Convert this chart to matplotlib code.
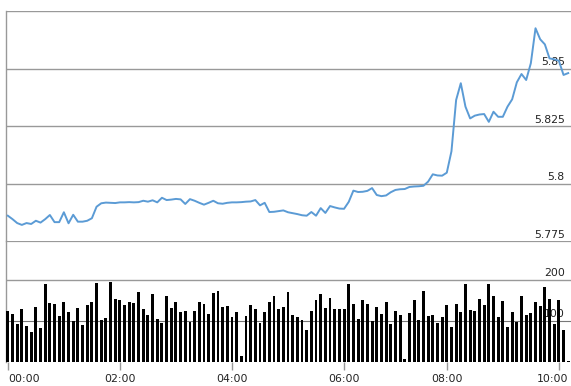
import matplotlib.pyplot as plt
import matplotlib.transforms as mtransforms

# price per 5-minute slot (index based x axis)
price = [
    5.7860, 5.7845, 5.7828, 5.7820, 5.7828, 5.7824, 5.7838, 5.7830, 5.7845, 5.7863,
    5.7832, 5.7832, 5.7875, 5.7827, 5.7864, 5.7834, 5.7834, 5.7838, 5.7849, 5.7899,
    5.7914, 5.7917, 5.7916, 5.7915, 5.7918, 5.7918, 5.7919, 5.7918, 5.7919, 5.7925,
    5.7921, 5.7927, 5.7918, 5.7938, 5.7928, 5.7930, 5.7933, 5.7931, 5.7911, 5.7932,
    5.7925, 5.7916, 5.7908, 5.7916, 5.7925, 5.7914, 5.7912, 5.7916, 5.7918, 5.7918,
    5.7919, 5.7921, 5.7922, 5.7928, 5.7905, 5.7916, 5.7876, 5.7877, 5.7880, 5.7883,
    5.7875, 5.7871, 5.7867, 5.7862, 5.7860, 5.7876, 5.7860, 5.7893, 5.7872, 5.7902,
    5.7896, 5.7891, 5.7890, 5.7920, 5.7969, 5.7963, 5.7964, 5.7968, 5.7980, 5.7950,
    5.7945, 5.7948, 5.7962, 5.7972, 5.7975, 5.7976, 5.7985, 5.7987, 5.7988, 5.7990,
    5.8008, 5.8040, 5.8035, 5.8034, 5.8047, 5.8140, 5.8363, 5.8436, 5.8334, 5.8283,
    5.8295, 5.8300, 5.8302, 5.8268, 5.8312, 5.8290, 5.8290, 5.8334, 5.8366, 5.8440,
    5.8476, 5.8450, 5.8523, 5.8675, 5.8627, 5.8605, 5.8544, 5.8540, 5.8534, 5.8472,
    5.8480,
]

volume = [
    125, 117, 93, 130, 87, 73, 134, 83, 190, 144,
    141, 113, 146, 122, 101, 132, 89, 140, 146, 193,
    103, 107, 195, 154, 152, 140, 146, 144, 171, 128,
    115, 166, 106, 95, 162, 132, 146, 122, 125, 98,
    125, 146, 141, 117, 168, 174, 134, 137, 109, 122,
    15, 113, 140, 128, 95, 122, 146, 162, 130, 134,
    171, 114, 109, 102, 79, 125, 150, 166, 132, 156,
    128, 128, 128, 190, 141, 106, 150, 141, 101, 134,
    117, 146, 93, 125, 114, 7, 120, 150, 103, 174,
    111, 114, 95, 109, 138, 85, 141, 122, 190, 127,
    125, 154, 140, 190, 160, 109, 148, 85, 122, 97,
    160, 114, 120, 146, 136, 182, 154, 93, 150, 77,
    3,
]

tick_pos = [0, 24, 48, 72, 94, 118]
tick_labels = ["00:00", "02:00", "04:00", "06:00", "08:00", "10:00"]

price_ticks = [5.775, 5.8, 5.825, 5.85]
price_tick_labels = ["5.775", "5.8", "5.825", "5.85"]
vol_ticks = [100, 200]
vol_tick_labels = ["100", "200"]

grid_col = "#999999"
text_col = "#222222"
line_col = "#5b9bd5"

fig = plt.figure(figsize=(5.71, 3.86), dpi=100)
left = 5.5 / 571
ax_p = fig.add_axes([left, 1 - 241 / 386, 1 - left, (241 - 11) / 386])
ax_v = fig.add_axes([left, 1 - 362 / 386, 1 - left, (362 - 241) / 386], sharex=ax_p)

x = list(range(len(price)))

# price panel
ax_p.plot(x, price, color=line_col, lw=1.4, zorder=3)
ax_p.set_ylim(5.775, 5.875)
for y in [5.8, 5.825, 5.85, 5.875]:
    ax_p.axhline(y, color=grid_col, lw=1.0, zorder=1)
trans = mtransforms.blended_transform_factory(ax_p.transAxes, ax_p.transData)
for y, lab in zip(price_ticks, price_tick_labels):
    ax_p.text(0.989, y + 0.0006, lab, transform=trans, ha="right", va="bottom",
              fontsize=7.8, color=text_col, zorder=2)

# volume panel
ax_v.bar(x, volume, width=0.62, color="black", zorder=3)
ax_v.set_ylim(0, 295)
ax_v.axhline(295, color=grid_col, lw=1.6, zorder=1)
ax_v.axhline(200, color=grid_col, lw=1.0, zorder=1)
ax_v.axhline(100, color="#777777", lw=0.8, zorder=1)
trans_v = mtransforms.blended_transform_factory(ax_v.transAxes, ax_v.transData)
for y, lab in zip(vol_ticks, vol_tick_labels):
    ax_v.text(0.989, y + 4, lab, transform=trans_v, ha="right", va="bottom",
              fontsize=7.8, color=text_col, zorder=2)

ax_p.set_xlim(-0.5, 120.6)

for ax in (ax_p, ax_v):
    for side in ["top", "right", "bottom"]:
        ax.spines[side].set_visible(False)
    ax.spines["left"].set_color(grid_col)
    ax.spines["left"].set_linewidth(1.0)
    ax.set_yticks([])

ax_p.tick_params(axis="x", which="both", bottom=False, labelbottom=False)
ax_v.set_xticks(tick_pos)
ax_v.set_xticklabels(tick_labels)
ax_v.tick_params(axis="x", colors=grid_col, length=6, width=1.0, pad=3,
                 labelsize=7.8, labelcolor=text_col)

# keep the edge labels inside the figure
xlabels = ax_v.get_xticklabels()
xlabels[0].set_horizontalalignment("left")
xlabels[-1].set_transform(xlabels[-1].get_transform() +
                          mtransforms.ScaledTranslation(-6 / 100, 0, fig.dpi_scale_trans))

fig.savefig("out.png", dpi=100)
